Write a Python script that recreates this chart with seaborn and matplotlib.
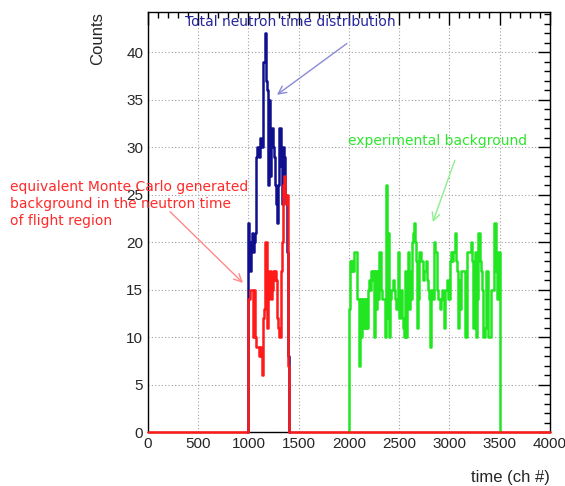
import numpy as np
import pandas as pd
import matplotlib
matplotlib.use("Agg")
import matplotlib.pyplot as plt
from matplotlib.ticker import MultipleLocator
import seaborn as sns

# channel binning (10 ch per bin over the full 0-4000 range)
bin_width = 10
x_range = (0, 4000)

# total neutron time distribution, bins starting at ch 1000
blue_start = 1000
blue_counts = [22, 19, 17, 20, 21, 19, 20, 21, 29, 30,
               29, 31, 30, 30, 39, 39, 42, 37, 36, 26,
               35, 27, 31, 32, 30, 29, 26, 24, 22, 26,
               32, 32, 28, 24, 30, 29, 25, 24, 19, 8]

# equivalent MC generated background, bins starting at ch 1000
red_start = 1000
red_counts = [14, 14, 15, 15, 15, 10, 15, 10, 9, 9,
              8, 9, 8, 6, 12, 13, 20, 20, 11, 14,
              17, 17, 14, 15, 17, 16, 17, 16, 12, 11,
              10, 10, 17, 20, 26, 27, 25, 24, 25, 7]

# experimental background, bins starting at ch 2000
green_start = 2000
green_counts = [13, 18, 17, 18, 17, 19, 19, 19, 14, 14,
                7, 14, 10, 14, 11, 14, 11, 14, 11, 15,
                16, 15, 17, 16, 17, 10, 17, 13, 17, 14,
                19, 19, 15, 14, 14, 14, 10, 26, 12, 21,
                10, 14, 15, 15, 16, 15, 14, 13, 14, 19,
                12, 14, 15, 12, 11, 10, 17, 10, 15, 19,
                13, 17, 14, 20, 21, 22, 20, 18, 11, 14,
                19, 19, 18, 18, 16, 17, 17, 18, 16, 15,
                14, 9, 15, 15, 14, 20, 19, 19, 15, 14,
                14, 13, 14, 15, 14, 11, 15, 15, 16, 14,
                14, 18, 19, 18, 19, 19, 21, 18, 17, 11,
                16, 13, 17, 17, 17, 17, 10, 10, 19, 19,
                19, 19, 20, 18, 11, 11, 19, 10, 14, 21,
                21, 18, 17, 15, 10, 10, 11, 17, 17, 10,
                10, 10, 15, 15, 22, 22, 17, 14, 19, 19]

edges = np.arange(x_range[0], x_range[1] + bin_width, bin_width)
centers = edges[:-1] + bin_width / 2


def full_hist(start, counts):
    h = np.zeros(len(centers))
    i0 = (start - x_range[0]) // bin_width
    h[i0:i0 + len(counts)] = counts
    return h


def span(start, counts):
    # one empty bin each side so the outline drops back to zero
    return (start - bin_width, start + bin_width * (len(counts) + 1))


df = pd.DataFrame({
    "ch": centers,
    "total": full_hist(blue_start, blue_counts),
    "mc": full_hist(red_start, red_counts),
    "exp": full_hist(green_start, green_counts),
})

sns.set_style("white")
plt.rcParams["font.family"] = ["Liberation Sans", "DejaVu Sans"]

fig = plt.figure(figsize=(5.65, 4.86), dpi=100)
ax = fig.add_axes([0.262, 0.111, 0.711, 0.864])

hist_kw = dict(binwidth=bin_width, element="step", fill=False,
               linewidth=1.8, ax=ax, clip_on=False)
sns.histplot(data=df, x="ch", weights="total", color="#10108f", zorder=3.0,
             binrange=span(blue_start, blue_counts), **hist_kw)
sns.histplot(data=df, x="ch", weights="exp", color="#22e622", zorder=3.1,
             binrange=span(green_start, green_counts), **hist_kw)
sns.histplot(data=df, x="ch", weights="mc", color="#ff1a1a", zorder=3.2,
             binrange=x_range, **hist_kw)

ax.set_xlim(0, 4000)
ax.set_ylim(0, 44.2)
ax.xaxis.set_major_locator(MultipleLocator(500))
ax.xaxis.set_minor_locator(MultipleLocator(100))
ax.yaxis.set_major_locator(MultipleLocator(5))
ax.yaxis.set_minor_locator(MultipleLocator(1))
ax.tick_params(which="both", direction="in", top=True, right=True,
               labelsize=11, width=1, color="black")
ax.tick_params(which="major", length=9)
ax.tick_params(which="minor", length=4.5)
ax.grid(True, which="major", color="#a0a0a0", linestyle=(0, (1, 2)), linewidth=0.8)
for s in ax.spines.values():
    s.set_color("black")
    s.set_linewidth(1)

ax.set_xlabel("time (ch #)", fontsize=12, ha="right", x=1.0, labelpad=14)
ax.set_ylabel("Counts", fontsize=12, ha="right", y=1.0, labelpad=15)

# annotations
ann_font = ["DejaVu Sans"]
ax.text(368, 43.2, "Total neutron time distribution", fontsize=10,
        color="#2626a0", family=ann_font, ha="left", va="center")
ax.annotate("", xy=(1284, 35.5), xytext=(1980, 40.9),
            arrowprops=dict(arrowstyle="->", color="#8a8ad8", lw=1,
                            shrinkA=0, shrinkB=0, mutation_scale=14))

ax.text(1990, 30.6, "experimental background", fontsize=10,
        color="#2ee62e", family=ann_font, ha="left", va="center")
ax.annotate("", xy=(2836, 22.1), xytext=(3055, 28.6),
            arrowprops=dict(arrowstyle="->", color="#8cf08c", lw=1,
                            shrinkA=0, shrinkB=0, mutation_scale=14))

fig.text(0.017, 0.580, "equivalent Monte Carlo generated\nbackground in the neutron time\nof flight region",
         fontsize=10, color="#ff2a2a", family=ann_font, ha="left", va="center",
         linespacing=1.26)
ax.annotate("", xy=(945, 15.7), xytext=(219, 23.2),
            arrowprops=dict(arrowstyle="->", color="#ff8a8a", lw=1,
                            shrinkA=0, shrinkB=0, mutation_scale=14))

fig.savefig("out.png", dpi=100)
